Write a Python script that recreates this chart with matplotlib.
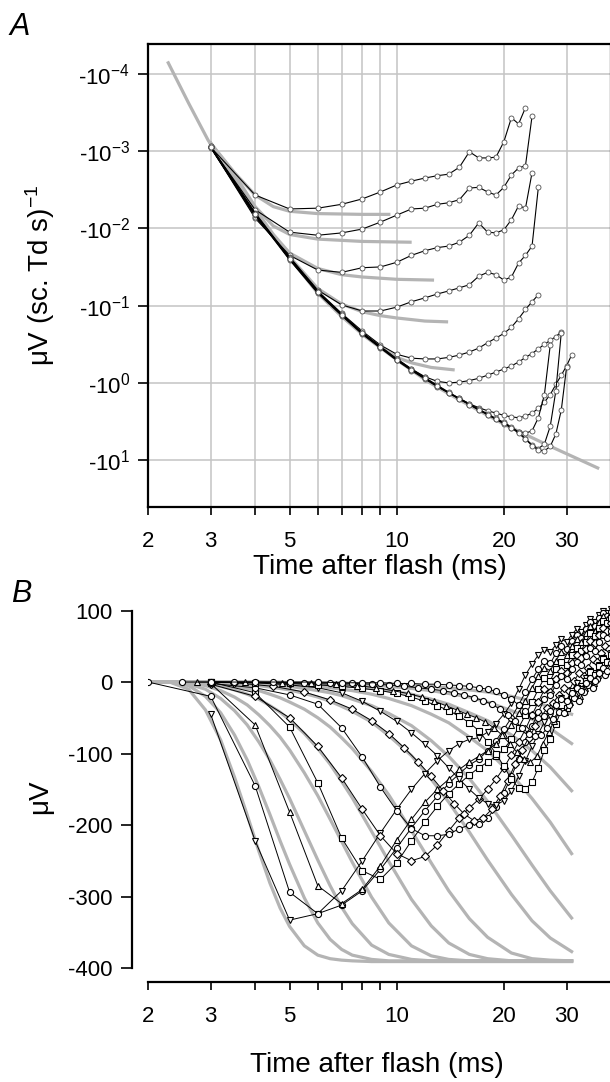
import numpy as np
import matplotlib
matplotlib.use('Agg')
import matplotlib.pyplot as plt
from matplotlib.ticker import FixedLocator, FixedFormatter, NullLocator

plt.rcParams['font.family'] = ['Liberation Sans', 'DejaVu Sans']
plt.rcParams['mathtext.fontset'] = 'custom'
plt.rcParams['mathtext.rm'] = 'Liberation Sans'
plt.rcParams['mathtext.it'] = 'Liberation Sans:italic'
plt.rcParams['axes.unicode_minus'] = False

W, H = 610, 1082
GRAY = '#b4b4b4'

# ---------------- panel A : log10 |uV / (sc. Td s)| ----------------
# model (gray) lines
a_main_t = [2.28, 2.6, 2.95, 3.5, 4.0, 4.5, 5.0, 6.0, 7.0, 8.0, 10, 12.2, 15, 20.3, 27, 36.7]
a_main_L = [-4.14, -3.62, -3.14, -2.62, -2.22, -1.90, -1.62, -1.16, -0.86, -0.63, -0.30, -0.02, 0.22, 0.55, 0.82, 1.10]

a_seg1_t = [3.0, 3.5, 4.0, 4.5, 5.0, 6.0, 8.0, 9.5]
a_seg1_L = [-3.10, -2.72, -2.43, -2.28, -2.22, -2.19, -2.18, -2.18]
a_seg2_t = [3.0, 3.5, 4.0, 4.5, 5.0, 6.0, 8.0, 10.9]
a_seg2_L = [-3.10, -2.70, -2.28, -2.03, -1.92, -1.86, -1.83, -1.82]
a_seg3_t = [3.0, 3.5, 4.0, 4.5, 5.0, 6.0, 7.0, 8.0, 10.0, 12.6]
a_seg3_L = [-3.10, -2.66, -2.25, -1.92, -1.68, -1.48, -1.40, -1.37, -1.34, -1.33]
a_seg4_t = [3.0, 4.0, 5.0, 6.0, 7.0, 8.0, 9.0, 10.0, 12.0, 13.8]
a_seg4_L = [-3.10, -2.22, -1.63, -1.22, -1.02, -0.92, -0.87, -0.84, -0.80, -0.79]
a_seg5_t = [8.0, 9.0, 10.0, 11.0, 12.5, 14.4]
a_seg5_L = [-0.63, -0.46, -0.33, -0.26, -0.20, -0.17]

# recorded curves, one point per ms starting at 3 ms
a1 = [-3.05, -2.43, -2.25, -2.26, -2.31, -2.38, -2.47, -2.56, -2.61, -2.65, -2.68, -2.70, -2.79,
      -2.99, -2.91, -2.91, -2.92, -3.12, -3.43, -3.35, -3.56]
a2 = [-3.05, -2.24, -1.95, -1.91, -1.94, -1.99, -2.08, -2.17, -2.25, -2.26, -2.31, -2.33, -2.37,
      -2.52, -2.53, -2.47, -2.43, -2.53, -2.69, -2.78, -2.81, -3.45]
a3 = [-3.05, -2.13, -1.65, -1.46, -1.43, -1.49, -1.50, -1.56, -1.65, -1.71, -1.75, -1.77, -1.82,
      -1.91, -2.07, -1.95, -1.94, -1.98, -2.11, -2.29, -2.26, -2.72]
a4 = [-3.05, -2.15, -1.63, -1.20, -1.01, -0.93, -0.93, -0.98, -1.05, -1.10, -1.15, -1.19, -1.23,
      -1.27, -1.38, -1.43, -1.40, -1.33, -1.37, -1.55, -1.65, -1.77, -2.53]
a5 = [-3.06, -2.20, -1.62, -1.19, -0.90, -0.67, -0.49, -0.37, -0.32, -0.31, -0.31, -0.33, -0.36,
      -0.40, -0.45, -0.52, -0.58, -0.64, -0.72, -0.83, -0.95, -1.05, -1.14]
a6 = [-3.05, -2.18, -1.61, -1.18, -0.88, -0.65, -0.47, -0.31, -0.18, -0.08, -0.02, 0.00, -0.01,
      -0.03, -0.06, -0.10, -0.14, -0.18, -0.22, -0.27, -0.33, -0.38, -0.44, -0.50, -0.55, -0.60, -0.66]
a7 = [-3.04, -2.17, -1.59, -1.16, -0.87, -0.63, -0.45, -0.29, -0.16, -0.05, 0.05, 0.13, 0.20,
      0.27, 0.32, 0.36, 0.39, 0.42, 0.44, 0.45, 0.43, 0.39, 0.33, 0.25, 0.15, 0.02, -0.10, -0.22, -0.36]
a8 = [-3.05, -2.19, -1.60, -1.17, -0.88, -0.64, -0.46, -0.30, -0.17, -0.06, 0.04, 0.13, 0.21,
      0.28, 0.35, 0.41, 0.47, 0.53, 0.58, 0.63, 0.65, 0.62, 0.45, 0.15, -0.49]
a9 = [-3.06, -2.19, -1.61, -1.18, -0.89, -0.65, -0.47, -0.31, -0.18, -0.07, 0.03, 0.12, 0.20,
      0.27, 0.34, 0.40, 0.46, 0.51, 0.57, 0.64, 0.72, 0.80, 0.85, 0.79, 0.56, 0.10, -0.65]
a10 = [-3.05, -2.18, -1.60, -1.17, -0.88, -0.64, -0.46, -0.30, -0.17, -0.06, 0.04, 0.13, 0.21,
       0.28, 0.35, 0.41, 0.47, 0.52, 0.58, 0.65, 0.73, 0.81, 0.87, 0.88, 0.82, 0.66, 0.35, -0.20]

# ---------------- panel B : uV ----------------
b_gray_t = [2.0, 2.3, 2.6, 2.9, 3.2, 3.5, 3.8, 4.1, 4.4, 4.7, 5.0, 5.5, 6.0, 6.5, 7.0, 7.5,
            8.5, 9.5, 11, 12.5, 14, 16, 18, 21, 24, 27, 31]
g0 = [0, 0, -10, -39, -81, -133, -186, -237, -281, -316, -342, -369, -382, -387, -389, -390,
      -391, -391, -391, -391, -391, -391, -391, -391, -391, -391, -391]
g1 = [0, 0, -5, -20, -43, -74, -109, -147, -185, -222, -255, -302, -337, -360, -374, -382,
      -388, -390, -390, -390, -390, -390, -390, -390, -390, -390, -390]
g2 = [0, 0, -3, -10, -23, -40, -60, -84, -109, -136, -163, -208, -249, -285, -315, -338,
      -368, -381, -388, -390, -390, -390, -390, -390, -390, -390, -390]
g3 = [0, 0, -1, -5, -12, -21, -32, -46, -61, -77, -95, -127, -159, -192, -223, -252,
      -301, -337, -369, -383, -388, -390, -390, -390, -390, -390, -390]
g4 = [0, 0, -1, -3, -6, -11, -17, -24, -33, -42, -53, -72, -93, -115, -139, -162,
      -209, -251, -304, -341, -365, -381, -387, -390, -390, -390, -390]
g5 = [0, 0, 0, -1, -3, -6, -9, -12, -17, -22, -28, -38, -50, -63, -78, -93,
      -125, -158, -208, -253, -292, -331, -357, -379, -387, -389, -390]
g6 = [0, 0, 0, -1, -1, -2, -4, -5, -7, -9, -11, -16, -21, -27, -34, -41,
      -56, -75, -103, -136, -168, -210, -249, -297, -334, -358, -377]
g7 = [0, 0, 0, 0, -1, -1, -2, -3, -4, -5, -6, -9, -12, -15, -19, -24,
      -33, -44, -61, -82, -104, -135, -167, -214, -256, -292, -330]
g8 = [0, 0, 0, 0, -1, -1, -1, -1, -2, -3, -3, -5, -6, -8, -10, -12,
      -17, -23, -33, -45, -57, -77, -96, -129, -163, -196, -240]
g9 = [0, 0, 0, 0, 0, 0, -1, -1, -1, -1, -2, -2, -3, -4, -5, -6,
      -9, -12, -17, -24, -31, -43, -54, -74, -96, -119, -152]
g10 = [0, 0, 0, 0, 0, 0, 0, 0, -1, -1, -1, -2, -2, -2, -3, -3,
       -4, -6, -9, -12, -16, -21, -28, -40, -52, -65, -86]
g11 = [0, 0, 0, 0, 0, 0, 0, 0, 0, 0, -1, -1, -1, -1, -1, -2,
       -3, -3, -4, -6, -8, -11, -14, -20, -27, -35, -45]

# recorded a-waves, 1 ms apart from the given first time
b_start = [3, 2, 3, 3, 3, 3, 3.5, 3, 3, 2.75, 2.5, 3]
b_marker = ['v', 'o', '^', 's', 'D', 'o', 'D', 'v', 's', '^', 'o', 'o']
c0 = [-45, -222, -333, -324, -292, -250, -211, -178, -150, -128, -110, -96, -86, -80, -78, -70, -58, -45,
      -30, -10, 10, 25, 38, 45, 42, 52, 60, 56, 66, 74, 70, 80, 88, 84, 94, 100, 96, 102]
c1 = [0, -20, -145, -294, -324, -312, -292, -262, -232, -204, -180, -160, -142, -128, -116, -108, -96, -82,
      -66, -50, -32, -14, 4, 18, 30, 26, 40, 50, 46, 58, 66, 62, 74, 84, 78, 90, 96, 92, 98]
c2 = [-2, -60, -182, -285, -310, -290, -257, -221, -192, -168, -150, -136, -122, -112, -104, -96, -86, -74,
      -60, -44, -26, -8, 8, 20, 16, 30, 42, 38, 50, 60, 56, 68, 78, 72, 84, 92, 88, 96]
c3 = [0, -15, -63, -141, -218, -264, -276, -253, -222, -196, -174, -156, -142, -130, -120, -112, -104, -94,
      -80, -64, -46, -28, -10, 6, 2, 18, 28, 24, 38, 48, 44, 56, 68, 64, 76, 86, 82, 90]
c4 = [-3, -20, -50, -90, -134, -178, -215, -240, -250, -244, -228, -208, -190, -176, -164, -150, -136, -120,
      -102, -84, -66, -46, -28, -10, -14, 4, 16, 12, 26, 38, 34, 46, 58, 54, 66, 76, 72, 82]
c5 = [-2, -8, -18, -31, -64, -105, -147, -180, -205, -215, -215, -213, -205, -200, -199, -190, -175, -155,
      -132, -108, -84, -62, -42, -24, -18, -4, 8, 4, 18, 28, 24, 36, 48, 44, 56, 66, 62, 72]
c6 = [-1, -6, -14, -25, -38, -54, -72, -92, -112, -132, -152, -170, -185, -194, -190, -178, -160, -138,
      -115, -95, -78, -62, -48, -36, -30, -18, -8, -12, 2, 12, 8, 20, 32, 28, 40, 50, 46]
c7 = [0, -1, -4, -8, -15, -27, -41, -55, -71, -87, -103, -120, -136, -150, -162, -170, -172, -166,
      -152, -132, -110, -90, -72, -56, -48, -34, -22, -26, -12, -2, -6, 6, 16, 12, 24, 34, 30, 40]
c8 = [0, -1, -2, -4, -6, -9, -12, -16, -21, -27, -33, -40, -48, -57, -68, -84, -100, -118,
      -136, -148, -150, -140, -120, -95, -80, -58, -40, -36, -20, -8, -10, 2, 14, 10, 22, 32, 28, 38]
c9 = [0, 0, -1, -2, -3, -5, -8, -12, -16, -21, -27, -33, -39, -45, -50, -56, -64, -74,
      -86, -98, -108, -112, -104, -86, -70, -54, -40, -42, -28, -16, -20, -8, 2, -2, 10, 20, 16, 26]
c10 = [0, 0, 0, -1, -1, -2, -3, -4, -6, -8, -10, -12, -15, -18, -22, -26, -31, -38,
       -46, -55, -64, -72, -76, -74, -64, -52, -42, -44, -32, -22, -26, -14, -4, -8, 4, 14, 10, 20]
c11 = [0, 0, 0, 0, -1, -1, -1, -2, -2, -3, -3, -4, -5, -6, -8, -10, -13, -18,
       -24, -32, -40, -46, -50, -48, -40, -32, -24, -26, -16, -8, -12, -2, 6, 2, 12, 20, 16, 26]

x_ticks = [2, 3, 4, 5, 6, 7, 8, 9, 10, 20, 30]
x_labels = ['2', '3', '', '5', '', '', '', '', '10', '20', '30']
a_yticks = [1e-4, 1e-3, 1e-2, 1e-1, 1e0, 1e1]
a_ylabels = [r'-10$^{-4}$', r'-10$^{-3}$', r'-10$^{-2}$', r'-10$^{-1}$', r'-10$^{0}$', r'-10$^{1}$']
b_yticks = [-400, -300, -200, -100, 0, 100]


def rect(x0, y0, x1, y1):
    return [x0 / W, 1 - y1 / H, (x1 - x0) / W, (y1 - y0) / H]


fig = plt.figure(figsize=(W / 100, H / 100), dpi=100)

# ---- A ----
axA = fig.add_axes(rect(148, 43.5, 611, 507))
axA.set_xscale('log')
axA.set_yscale('log')
axA.set_xlim(2, 40)
axA.set_ylim(10 ** 1.605, 10 ** -4.39)

axA.plot(a_main_t, 10 ** np.array(a_main_L), color=GRAY, lw=2.3, zorder=2)
for st, sL in [(a_seg1_t, a_seg1_L), (a_seg2_t, a_seg2_L), (a_seg3_t, a_seg3_L),
               (a_seg4_t, a_seg4_L), (a_seg5_t, a_seg5_L)]:
    axA.plot(st, 10 ** np.array(sL), color=GRAY, lw=2.3, zorder=2)

for L in [a1, a2, a3, a4, a5, a6, a7, a8, a9, a10]:
    t = 3 + np.arange(len(L))
    axA.plot(t, 10 ** np.array(L), color='black', lw=0.8, marker='o', ms=3.6,
             mfc='white', mec='#505050', mew=0.6, zorder=3)

axA.xaxis.set_major_locator(FixedLocator(x_ticks))
axA.xaxis.set_major_formatter(FixedFormatter(x_labels))
axA.xaxis.set_minor_locator(NullLocator())
axA.yaxis.set_major_locator(FixedLocator(a_yticks))
axA.yaxis.set_major_formatter(FixedFormatter(a_ylabels))
axA.yaxis.set_minor_locator(NullLocator())
axA.grid(True, which='major', color='#c4c4c4', lw=1.1)
axA.set_axisbelow(True)
for s in axA.spines.values():
    s.set_linewidth(1.6)
axA.tick_params(axis='x', direction='out', length=6, width=1.2, pad=11, labelsize=16)
axA.tick_params(axis='y', direction='out', length=7, width=1.2, pad=6, labelsize=16)

# ---- B ----
axB = fig.add_axes(rect(148, 603.4, 611, 968))
axB.set_xscale('log')
axB.set_xlim(2, 40)
axB.set_ylim(-400, 110)

for g in [g0, g1, g2, g3, g4, g5, g6, g7, g8, g9, g10, g11]:
    axB.plot(b_gray_t, g, color=GRAY, lw=2.3, zorder=1)

for v, t0, mk in zip([c0, c1, c2, c3, c4, c5, c6, c7, c8, c9, c10, c11], b_start, b_marker):
    t = t0 + np.arange(len(v))
    ms = 3.6 if mk == 'D' else 4.4
    axB.plot(t, v, color='black', lw=0.7, marker=mk, ms=ms, mfc='white', mec='black',
             mew=0.8, zorder=3)

axB.spines['top'].set_visible(False)
axB.spines['right'].set_visible(False)
axB.spines['left'].set_position(('outward', 11.5))
axB.spines['left'].set_bounds(-400, 100)
axB.spines['bottom'].set_position(('outward', 10))
axB.spines['left'].set_linewidth(1.6)
axB.spines['bottom'].set_linewidth(1.6)
axB.xaxis.set_major_locator(FixedLocator(x_ticks))
axB.xaxis.set_major_formatter(FixedFormatter(x_labels))
axB.xaxis.set_minor_locator(NullLocator())
axB.yaxis.set_major_locator(FixedLocator(b_yticks))
axB.yaxis.set_major_formatter(FixedFormatter([str(v) for v in b_yticks]))
axB.tick_params(axis='x', direction='out', length=6, width=1.2, pad=11, labelsize=16)
axB.tick_params(axis='y', direction='out', length=8, width=1.2, pad=6, labelsize=16)

# ---- labels ----
fig.text(380 / W, 1 - 567 / H, 'Time after flash (ms)', ha='center', va='center', fontsize=20)
fig.text(40 / W, 1 - 275 / H, r'μV (sc. Td s)$^{-1}$', rotation=90, ha='center', va='center', fontsize=20)
fig.text(377 / W, 1 - 1065 / H, 'Time after flash (ms)', ha='center', va='center', fontsize=20)
fig.text(40 / W, 1 - 797 / H, 'μV', rotation=90, ha='center', va='center', fontsize=20)
fig.text(9 / W, 1 - 35 / H, 'A', style='italic', fontsize=22, ha='left', va='baseline')
fig.text(11 / W, 1 - 602 / H, 'B', style='italic', fontsize=22, ha='left', va='baseline')

fig.savefig('out.png', dpi=100)
